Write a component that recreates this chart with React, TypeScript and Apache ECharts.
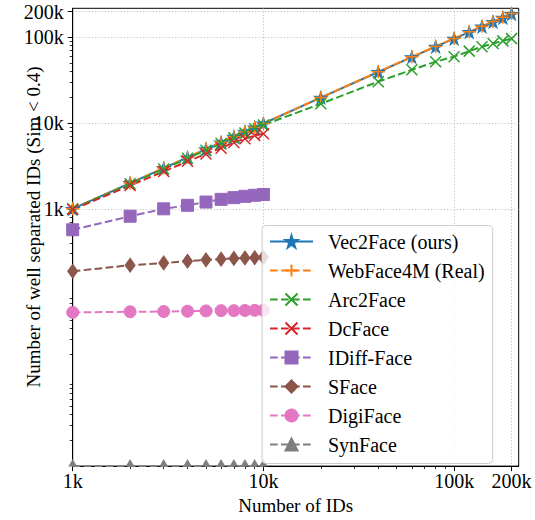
import React, { useEffect, useRef } from 'react';
import * as echarts from 'echarts';

const FONT = 'Liberation Serif';

// Number of IDs (x)
const xIDs = [1000, 2000, 3000, 4000, 5000, 6000, 7000, 8000, 9000, 10000,
  20000, 40000, 60000, 80000, 100000, 120000, 140000, 160000, 180000, 200000];

const vec2face = [1000, 1990, 2980, 3970, 4960, 5940, 6930, 7910, 8900, 9880,
  19800, 39400, 58800, 77800, 96600, 115200, 133800, 151500, 169000, 187500];
const webface4m = [1000, 1995, 2990, 3980, 4970, 5960, 6950, 7930, 8920, 9910,
  19900, 39600, 59200, 78300, 97200, 116000, 134800, 153000, 171000, 190000];
const arc2face = [1000, 1960, 2920, 3880, 4830, 5780, 6720, 7660, 8600, 9500,
  16800, 30400, 41800, 52000, 59500, 69000, 77600, 84700, 90900, 96600];
const dcface = [980, 1870, 2720, 3580, 4370, 5100, 5950, 6550, 7150, 7500];
const idiffface = [570, 820, 1000, 1100, 1200, 1290, 1350, 1400, 1440, 1470];
const sface = [187, 220, 234, 245, 254, 259, 264, 267, 269, 272];
const digiface = [62, 63, 63.5, 64, 64.5, 65, 65, 65.3, 65.5, 65.5];
const synface = [1, 1, 1, 1, 1, 1, 1, 1, 1, 1];

const xTickValues = [1000, 10000, 100000, 200000];
const xTickLabels = ['1k', '10k', '100k', '200k'];
const yTickValues = [1000, 10000, 100000, 200000];
const yTickLabels = ['1k', '10k', '100k', '200k'];
const xMinorTicks = [2000, 3000, 4000, 5000, 6000, 7000, 8000, 9000,
  20000, 30000, 40000, 50000, 60000, 70000, 80000, 90000];
const yMinorTicks = [2, 3, 4, 5, 6, 7, 8, 9, 20, 30, 40, 50, 60, 70, 80, 90,
  200, 300, 400, 500, 600, 700, 800, 900, 2000, 3000, 4000, 5000, 6000, 7000, 8000, 9000,
  20000, 30000, 40000, 50000, 60000, 70000, 80000, 90000];

const AXIS_MIN_X = 1000;
const AXIS_MAX = 218000;
const AXIS_MIN_Y = 1;

const STAR = 'path://M10,0 L12.25,6.91 L19.51,6.91 L13.63,11.18 L15.88,18.09 L10,13.82 L4.12,18.09 L6.37,11.18 L0.49,6.91 L7.75,6.91 Z';
const PLUS = 'path://M5,0 L5,10 M0,5 L10,5';
const CROSS = 'path://M0,0 L10,10 M10,0 L0,10';

const DASH = [7.7, 3.3];

function lookup(values: number[], labels: string[]) {
  return (v: number) => {
    for (let i = 0; i < values.length; i++) {
      if (Math.abs(v - values[i]) / values[i] < 1e-6) return labels[i];
    }
    return '';
  };
}

function pairs(ys: number[]) {
  return ys.map((y, i) => [xIDs[i], y]);
}

export default function App() {
  const ref = useRef<HTMLDivElement>(null);
  useEffect(() => {
    const chart = echarts.init(ref.current!, null, { renderer: 'svg' });
    const tickText = { fontFamily: FONT, fontSize: 20, color: '#000' };
    const nameText = { fontFamily: FONT, fontSize: 19, color: '#000' };
    const lineSeries = (name: string, ys: number[], color: string, symbol: string,
      symbolSize: any, dashed: boolean, stroked: boolean, extra: any = {}) => ({
      name,
      type: 'line',
      data: pairs(ys),
      symbol,
      symbolSize,
      showSymbol: true,
      lineStyle: { color, width: 2, type: dashed ? DASH : 'solid' },
      itemStyle: stroked
        ? { color: 'rgba(0,0,0,0)', borderColor: color, borderWidth: 1.5 }
        : { color, borderColor: color, borderWidth: 1 },
      emphasis: { disabled: true },
      ...extra,
    });
    const option: any = {
      animation: false,
      grid: {
        left: 72.7, right: 16.3, top: 8.3, bottom: 47.3,
        show: true, borderColor: '#000', borderWidth: 1, backgroundColor: 'transparent',
      },
      xAxis: [
        {
          type: 'log', logBase: 10, min: AXIS_MIN_X, max: AXIS_MAX, position: 'bottom',
          name: 'Number of IDs', nameLocation: 'middle', nameGap: 23,
          nameTextStyle: { ...nameText },
          axisLine: { show: true, lineStyle: { color: '#000', width: 1 } },
          axisTick: { show: true, inside: false, length: 5, lineStyle: { color: '#000', width: 1 }, customValues: xTickValues },
          axisLabel: { show: true, customValues: xTickValues, formatter: lookup(xTickValues, xTickLabels), margin: 5, ...tickText },
          splitLine: { show: true, lineStyle: { color: '#b0b0b0', width: 0.8, type: [1.2, 2] } },
          minorTick: { show: false }, minorSplitLine: { show: false },
        },
        {
          type: 'log', logBase: 10, min: AXIS_MIN_X, max: AXIS_MAX, position: 'bottom',
          axisLine: { show: false },
          axisTick: { show: true, inside: false, length: 3, lineStyle: { color: '#000', width: 0.8 }, customValues: xMinorTicks },
          axisLabel: { show: false },
          splitLine: { show: false },
        },
      ],
      yAxis: [
        {
          type: 'log', logBase: 10, min: AXIS_MIN_Y, max: AXIS_MAX, position: 'left',
          axisLine: { show: true, lineStyle: { color: '#000', width: 1 } },
          axisTick: { show: true, inside: false, length: 5, lineStyle: { color: '#000', width: 1 }, customValues: yTickValues },
          axisLabel: { show: true, customValues: yTickValues, formatter: lookup(yTickValues, yTickLabels), margin: 9, ...tickText },
          splitLine: { show: true, lineStyle: { color: '#b0b0b0', width: 0.8, type: [1.2, 2] } },
          minorTick: { show: false }, minorSplitLine: { show: false },
        },
        {
          type: 'log', logBase: 10, min: AXIS_MIN_Y, max: AXIS_MAX, position: 'left',
          axisLine: { show: false },
          axisTick: { show: true, inside: false, length: 3, lineStyle: { color: '#000', width: 0.8 }, customValues: yMinorTicks },
          axisLabel: { show: false },
          splitLine: { show: false },
        },
      ],
      graphic: [
        {
          type: 'text', x: 33, y: 227, rotation: Math.PI / 2,
          style: {
            text: 'Number of well separated IDs (Sim < 0.4)',
            fontFamily: FONT, fontSize: 19, fill: '#000', align: 'center', verticalAlign: 'middle',
          },
        },
      ],
      legend: {
        orient: 'vertical', left: 262, top: 225.5,
        itemWidth: 43, itemHeight: 15, itemGap: 9,
        padding: [6, 8, 9, 7],
        backgroundColor: 'rgba(255,255,255,0.8)', borderColor: '#cccccc', borderWidth: 1, borderRadius: 4,
        textStyle: { ...tickText, lineHeight: 20, padding: [0, 0, 0, 10] },
        selectedMode: false,
      },
      series: [
        lineSeries('Vec2Face (ours)', vec2face, '#1f77b4', STAR, [13, 12.4], false, false),
        lineSeries('WebFace4M (Real)', webface4m, '#ff7f0e', PLUS, 13, true, true),
        lineSeries('Arc2Face', arc2face, '#2ca02c', CROSS, 11, true, true),
        lineSeries('DcFace', dcface, '#d62728', CROSS, 11, true, true),
        lineSeries('IDiff-Face', idiffface, '#9467bd', 'rect', 12, true, false),
        lineSeries('SFace', sface, '#8c564b', 'diamond', [10, 14], true, false),
        lineSeries('DigiFace', digiface, '#e377c2', 'circle', 12, true, false),
        lineSeries('SynFace', synface, '#7f7f7f', 'triangle', [7, 6], true, false, { symbolOffset: [0, -3], clip: false }),
      ],
    };
    chart.setOption(option);
    return () => chart.dispose();
  }, []);
  return <div ref={ref} style={{ position: 'absolute', left: 0, top: 0, width: 535, height: 520 }} />;
}
